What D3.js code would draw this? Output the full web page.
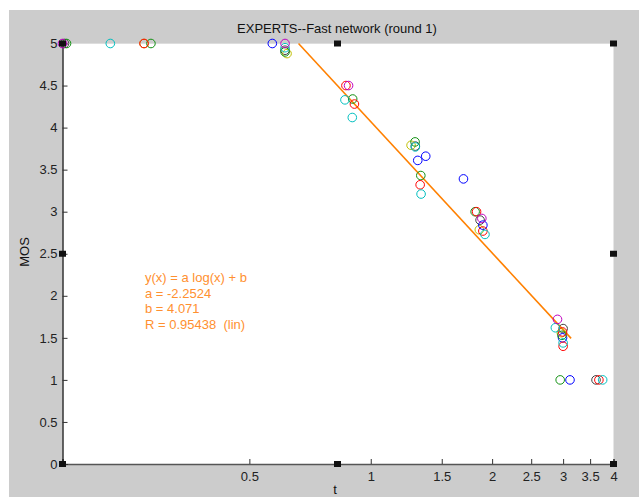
<!DOCTYPE html>
<html><head><meta charset="utf-8">
<script src="https://cdn.jsdelivr.net/npm/d3@7"></script>
<style>html,body{margin:0;padding:0;background:#fff;}svg{display:block;}</style>
</head><body>
<script>
const title = "EXPERTS--Fast network (round 1)";
const xLabel = "t";
const yLabel = "MOS";
const xTicks = [0.5, 1, 1.5, 2, 2.5, 3, 3.5, 4];
const yTicks = [0, 0.5, 1, 1.5, 2, 2.5, 3, 3.5, 4, 4.5, 5];
const xDomain = [0.172, 4];
const yDomain = [0, 5];

const seriesNames = ["b", "g", "r", "c", "m", "y", "k"];
const seriesColors = ["#0000ff", "#109010", "#ff0000", "#00bfbf", "#bf00bf", "#bfbf00", "#404040"];
const blueT = [0.570, 1.308, 1.369, 1.698, 1.897, 2.99, 3.12];
const blueMOS = [5, 3.61, 3.66, 3.39, 2.84, 1.5, 1];
const greenT = [0.176, 0.285, 0.613, 0.902, 1.288, 1.331, 1.815, 2.98, 2.95];
const greenMOS = [5, 5, 4.9, 4.34, 3.83, 3.43, 3.0, 1.53, 1];
const redT = [0.274, 0.868, 0.911, 1.326, 1.83, 1.897, 2.99, 3.0, 3.68];
const redMOS = [5, 4.5, 4.28, 3.32, 3.0, 2.77, 1.57, 1.4, 1];
const cyanT = [0.226, 0.613, 0.863, 0.90, 1.29, 1.333, 1.92, 2.87, 3.0, 3.76];
const cyanMOS = [5, 4.95, 4.33, 4.12, 3.77, 3.21, 2.73, 1.62, 1.44, 1];
const blackT = [0.174, 0.613, 1.29, 1.867, 3.0, 3.62];
const blackMOS = [5, 4.92, 3.78, 2.9, 1.61, 1];
const yellowT = [0.274, 0.62, 1.259, 1.859, 2.97];
const yellowMOS = [5, 4.88, 3.79, 2.785, 1.56];
const magentaT = [0.172, 0.613, 0.881, 1.886, 2.905];
const magentaMOS = [5, 5, 4.5, 2.92, 1.72];

const fitT = [0.662, 3.14];
const fitMOS = [5.0, 1.494];
const fitText = ["y(x) = a log(x) + b", "a = -2.2524", "b = 4.071", "R = 0.95438  (lin)"];

const seriesT = [blueT, greenT, redT, cyanT, magentaT, yellowT, blackT];
const seriesMOS = [blueMOS, greenMOS, redMOS, cyanMOS, magentaMOS, yellowMOS, blackMOS];
const drawOrder = [6, 5, 0, 1, 2, 3, 4];

const W = 639, H = 498;
const svg = d3.select("body").append("svg").attr("width", W).attr("height", H);
const font = "Arial, 'Liberation Sans', sans-serif";
const fs = 13;

// figure background
svg.append("rect").attr("x", 9).attr("y", 10).attr("width", W - 9).attr("height", 487).attr("fill", "#cccccc");

const L = 62.5, R = 613.5, T = 43.5, B = 464;
svg.append("rect").attr("x", L).attr("y", T).attr("width", R - L).attr("height", B - T).attr("fill", "#fff");
svg.append("line").attr("x1", L).attr("x2", R).attr("y1", T).attr("y2", T).attr("stroke", "#dddddd");

const x = d3.scaleLog().domain(xDomain).range([L, R]);
const y = d3.scaleLinear().domain(yDomain).range([B, T]);

// x axis
const xAxis = d3.axisBottom(x).tickValues(xTicks).tickFormat(d3.format("")).tickSize(-5).tickPadding(8);
const gx = svg.append("g").attr("transform", `translate(0,${B})`).call(xAxis);
gx.select(".domain").attr("stroke", "#555").attr("stroke-width", 1.6);
gx.selectAll(".tick line").attr("stroke", "#333");
gx.selectAll("text").attr("font-family", font).attr("font-size", fs).attr("fill", "#222");

// y axis
const yAxis = d3.axisLeft(y).tickValues(yTicks).tickFormat(d3.format("")).tickSize(-5).tickPadding(5);
const gy = svg.append("g").attr("transform", `translate(${L},0)`).call(yAxis);
gy.select(".domain").attr("stroke", "#000").attr("stroke-width", 1.2);
gy.selectAll(".tick line").attr("stroke", "#333");
gy.selectAll("text").attr("font-family", font).attr("font-size", fs).attr("fill", "#222");

// fit line
const fitPts = fitT.map((t, i) => [t, fitMOS[i]]);
svg.append("path").datum(fitPts)
  .attr("d", d3.line().x(d => x(d[0])).y(d => y(d[1])))
  .attr("fill", "none").attr("stroke", "#ff8000").attr("stroke-width", 1.6);

// data points
drawOrder.forEach(si => {
  const pts = seriesT[si].map((t, i) => [t, seriesMOS[si][i]]);
  svg.append("g").attr("class", "series-" + seriesNames[si]).selectAll("circle").data(pts).join("circle")
    .attr("cx", d => x(d[0])).attr("cy", d => y(d[1])).attr("r", 4.3)
    .attr("fill", "none").attr("stroke", seriesColors[si]).attr("stroke-width", 1);
});

// fit text
svg.append("g").selectAll("text").data(fitText).join("text")
  .attr("x", 145).attr("y", (d, i) => 282 + i * 15.5)
  .attr("font-family", font).attr("font-size", fs).attr("fill", "#ff9030")
  .attr("xml:space", "preserve").style("white-space", "pre")
  .text(d => d);

// title and labels
svg.append("text").attr("x", 337).attr("y", 33).attr("text-anchor", "middle")
  .attr("font-family", font).attr("font-size", fs).attr("fill", "#111").text(title);
svg.append("text").attr("x", 335).attr("y", 494).attr("text-anchor", "middle")
  .attr("font-family", font).attr("font-size", fs).attr("fill", "#111").text(xLabel);
svg.append("text").attr("transform", "translate(29,252) rotate(-90)").attr("text-anchor", "middle")
  .attr("font-family", font).attr("font-size", fs).attr("fill", "#111").text(yLabel);

// selection handles
const hx = [L, (L + R) / 2 - 0.5, R];
const hy = [T, (T + B) / 2, B];
const handles = [];
hx.forEach((hxv, i) => hy.forEach((hyv, j) => { if (!(i === 1 && j === 1)) handles.push([hxv, hyv]); }));
svg.append("g").selectAll("rect").data(handles).join("rect")
  .attr("x", d => d[0] - 3.5).attr("y", d => d[1] - 3).attr("width", 7).attr("height", 6)
  .attr("fill", "#111");
</script>
</body></html>
